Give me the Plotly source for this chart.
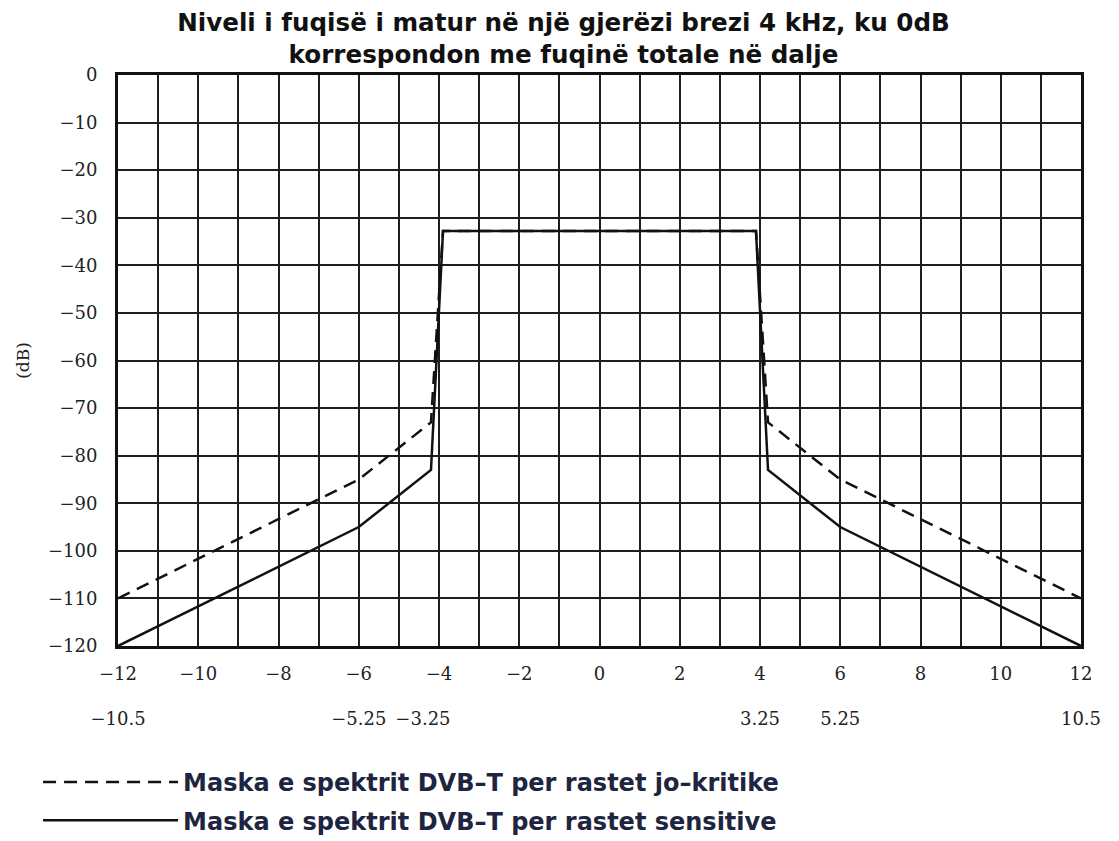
import plotly.graph_objects as go

# ---- data ----
x_noncrit = [-12, -6, -4.2, -3.9, 3.9, 4.2, 6, 12]
y_noncrit = [-110, -85, -73, -32.8, -32.8, -73, -85, -110]
x_sens = [-12, -6, -4.2, -3.9, 3.9, 4.2, 6, 12]
y_sens = [-120, -95, -83, -32.8, -32.8, -83, -95, -120]

x_tick_vals = [-12, -10, -8, -6, -4, -2, 0, 2, 4, 6, 8, 10, 12]
x_tick_text = ["−12", "−10", "−8", "−6", "−4", "−2", "0", "2", "4", "6", "8", "10", "12"]
sec_tick_vals = [-12, -6, -4.4, 4, 6, 12]
sec_tick_text = ["−10.5", "−5.25", "−3.25", "3.25", "5.25", "10.5"]
y_tick_vals = [0, -10, -20, -30, -40, -50, -60, -70, -80, -90, -100, -110, -120]

name_noncrit = "Maska e spektrit DVB–T per rastet jo–kritike"
name_sens = "Maska e spektrit DVB–T per rastet sensitive"
title_text = "Niveli i fuqisë i matur në një gjerëzi brezi 4 kHz, ku 0dB<br>korrespondon me fuqinë totale në dalje"

SERIF = "DejaVu Serif, serif"
SANSB = "DejaVu Sans, sans-serif"
GRID = "#1e1e1e"

fig = go.Figure()
fig.add_trace(go.Scatter(x=x_noncrit, y=y_noncrit, mode="lines", name=name_noncrit,
                         legendgroup="a",
                         line=dict(color="#111111", width=2.5, dash="13px,8px")))
fig.add_trace(go.Scatter(x=x_sens, y=y_sens, mode="lines", name=name_sens,
                         legendgroup="b",
                         line=dict(color="#111111", width=2.5)))
# invisible trace carrying the second row of x labels
fig.add_trace(go.Scatter(x=[-12, 12], y=[-120, -120], xaxis="x2", mode="lines",
                         line=dict(width=0), showlegend=False, hoverinfo="skip"))

fig.update_layout(
    width=1111, height=833,
    margin=dict(l=110, r=38, t=67, b=10, autoexpand=False),
    paper_bgcolor="white", plot_bgcolor="white",
    title=dict(text=title_text, x=0.5, xref="container", xanchor="center",
               y=0.972, yref="container", yanchor="top",
               font=dict(family=SANSB, size=24.6, color="#111111", weight="bold")),
    xaxis=dict(range=[-12, 12], tickvals=x_tick_vals, ticktext=x_tick_text,
               showgrid=True, gridcolor=GRID, gridwidth=2,
               minor=dict(dtick=1, tick0=0, showgrid=True, gridcolor=GRID, gridwidth=2),
               zeroline=False, showline=True, linecolor="#111111", linewidth=3, mirror=True,
               ticks="", ticklabelstandoff=9, automargin=False,
               tickfont=dict(family=SERIF, size=18, color="#222222")),
    xaxis2=dict(range=[-12, 12], overlaying="x", anchor="free", position=0.165,
                side="bottom", tickvals=sec_tick_vals, ticktext=sec_tick_text,
                showgrid=False, zeroline=False, showline=False, ticks="", automargin=False,
                tickfont=dict(family=SERIF, size=18, color="#222222")),
    yaxis=dict(range=[-120, 0], domain=[0.2447, 1], tickvals=y_tick_vals,
               showgrid=True, gridcolor=GRID, gridwidth=2,
               zeroline=False, showline=True, linecolor="#111111", linewidth=3, mirror=True,
               ticks="", ticklabelstandoff=14, automargin=False,
               tickfont=dict(family=SERIF, size=18, color="#222222"),
               title=dict(text="(dB)", standoff=14,
                          font=dict(family=SERIF, size=17, color="#222222"))),
    legend=dict(x=-0.083, xanchor="left", y=0.094, yanchor="top",
                itemwidth=135, tracegroupgap=4, bgcolor="rgba(0,0,0,0)",
                font=dict(family=SANSB, size=24, color="#1e2540", weight="bold")),
    showlegend=True,
)

fig.write_html("out.html")
